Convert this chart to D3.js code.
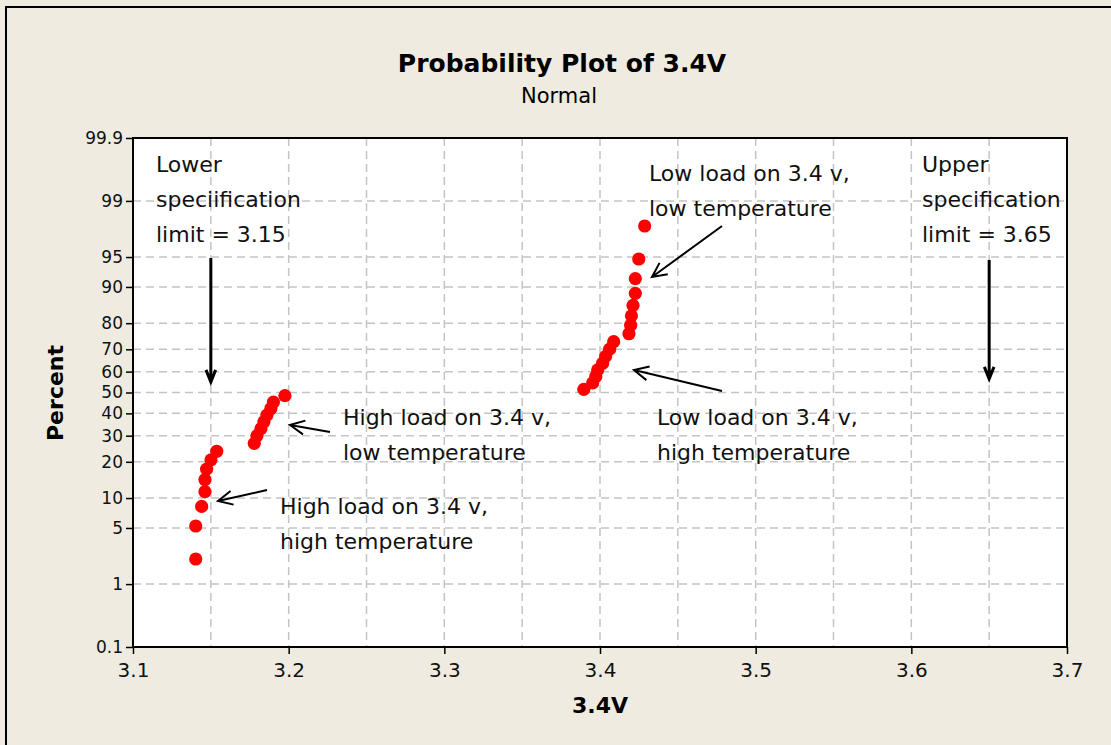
<!DOCTYPE html>
<html>
<head>
<meta charset="utf-8">
<script src="https://cdn.jsdelivr.net/npm/d3@7.9.0/dist/d3.min.js"></script>
<style>
  html, body { margin: 0; padding: 0; background: #efebe0; }
  svg { display: block; font-family: "DejaVu Sans", Verdana, sans-serif; }
</style>
</head>
<body>
<svg id="chart" width="1111" height="745"></svg>
<script>
// measured voltages, sorted (32 units)
const voltages = [
  3.1403, 3.1403, 3.1441, 3.1462, 3.1462, 3.1473, 3.1501, 3.1538,
  3.1779, 3.1796, 3.1822, 3.1841, 3.1860, 3.1886, 3.1902, 3.1976,
  3.3896, 3.3953, 3.3973, 3.3985, 3.4017, 3.4036, 3.4062, 3.4088,
  3.4186, 3.4197, 3.4202, 3.4212, 3.4227, 3.4227, 3.4249, 3.4287
];
// plotted percent for each point
const percents = [
  2.16, 5.25, 8.33, 11.42, 14.51, 17.59, 20.68, 23.77,
  26.85, 29.94, 33.02, 36.11, 39.20, 42.28, 45.37, 48.46,
  51.54, 54.63, 57.72, 60.80, 63.89, 66.98, 70.06, 73.15,
  76.23, 79.32, 82.41, 85.49, 88.58, 91.67, 94.75, 97.84
];

const xTicks = [3.1, 3.2, 3.3, 3.4, 3.5, 3.6, 3.7];
const xGrid = [3.15, 3.2, 3.25, 3.3, 3.35, 3.4, 3.45, 3.5, 3.55, 3.6, 3.65];
const yTicks = [0.1, 1, 5, 10, 20, 30, 40, 50, 60, 70, 80, 90, 95, 99, 99.9];
const yTickLabels = ['0.1', '1', '5', '10', '20', '30', '40', '50', '60', '70', '80', '90', '95', '99', '99.9'];
const yGrid = [1, 5, 10, 20, 30, 40, 50, 60, 70, 80, 90, 95, 99];

// inverse normal cdf (Acklam)
function qnorm(p) {
  const a = [-3.969683028665376e+01, 2.209460984245205e+02, -2.759285104469687e+02, 1.383577518672690e+02, -3.066479806614716e+01, 2.506628277459239e+00];
  const b = [-5.447609879822406e+01, 1.615858368580409e+02, -1.556989798598866e+02, 6.680131188771972e+01, -1.328068155288572e+01];
  const c = [-7.784894002430293e-03, -3.223964580411365e-01, -2.400758277161838e+00, -2.549671324285069e+00, 4.374664141464968e+00, 2.938163982698783e+00];
  const d = [7.784695709041462e-03, 3.224671290700398e-01, 2.445134137142996e+00, 3.754408661907416e+00];
  const pl = 0.02425, ph = 1 - pl;
  let q, r;
  if (p < pl) {
    q = Math.sqrt(-2 * Math.log(p));
    return (((((c[0]*q+c[1])*q+c[2])*q+c[3])*q+c[4])*q+c[5]) / ((((d[0]*q+d[1])*q+d[2])*q+d[3])*q+1);
  }
  if (p <= ph) {
    q = p - 0.5; r = q * q;
    return (((((a[0]*r+a[1])*r+a[2])*r+a[3])*r+a[4])*r+a[5])*q / (((((b[0]*r+b[1])*r+b[2])*r+b[3])*r+b[4])*r+1);
  }
  q = Math.sqrt(-2 * Math.log(1 - p));
  return -(((((c[0]*q+c[1])*q+c[2])*q+c[3])*q+c[4])*q+c[5]) / ((((d[0]*q+d[1])*q+d[2])*q+d[3])*q+1);
}

const svg = d3.select('#chart');
const W = 1111, H = 745;
const margin = { top: 138, right: 44, bottom: 98, left: 133 };
const innerW = W - margin.left - margin.right;
const innerH = H - margin.top - margin.bottom;

// outer frame
svg.append('rect')
  .attr('x', 6).attr('y', 7)
  .attr('width', W + 10).attr('height', H + 10)
  .attr('fill', '#efebe0')
  .attr('stroke', '#000').attr('stroke-width', 2);

const g = svg.append('g').attr('transform', `translate(${margin.left},${margin.top})`);

const x = d3.scaleLinear().domain([3.1, 3.7]).range([0, innerW]);
const z = d3.scaleLinear().domain([qnorm(0.001), qnorm(0.999)]).range([innerH, 0]);
const y = p => z(qnorm(p / 100));

g.append('rect')
  .attr('width', innerW).attr('height', innerH)
  .attr('fill', '#fff');

// gridlines
g.append('g').selectAll('line.gx')
  .data(xGrid).join('line')
  .attr('x1', d => x(d)).attr('x2', d => x(d))
  .attr('y1', 0).attr('y2', innerH)
  .attr('stroke', '#c4c4c4').attr('stroke-width', 1.5)
  .attr('stroke-dasharray', '8,5');

g.append('g').selectAll('line.gy')
  .data(yGrid).join('line')
  .attr('x1', 0).attr('x2', innerW)
  .attr('y1', d => y(d)).attr('y2', d => y(d))
  .attr('stroke', '#c4c4c4').attr('stroke-width', 1.5)
  .attr('stroke-dasharray', '8,5');

// axes
const xAxis = g.append('g')
  .attr('transform', `translate(0,${innerH})`)
  .call(d3.axisBottom(x).tickValues(xTicks).tickFormat(d3.format('.1f')).tickSize(7).tickSizeOuter(0));

const yAxis = g.append('g')
  .call(d3.axisLeft(z)
    .tickValues(yTicks.map(p => qnorm(p / 100)))
    .tickFormat((d, i) => yTickLabels[i])
    .tickSize(7).tickSizeOuter(0));

[xAxis, yAxis].forEach(a => {
  a.selectAll('.domain').remove();
  a.selectAll('.tick line').attr('stroke', '#000').attr('stroke-width', 1.5);
  a.selectAll('text').attr('fill', '#111')
    .style('font-family', '"DejaVu Sans", Verdana, sans-serif');
});
xAxis.selectAll('text').style('font-size', '20px').attr('dy', '1.05em').attr('y', 9);
yAxis.selectAll('text').style('font-size', '17px').attr('x', -10);

// plot frame
g.append('rect')
  .attr('width', innerW).attr('height', innerH)
  .attr('fill', 'none').attr('stroke', '#000').attr('stroke-width', 2);

// points
g.selectAll('circle.pt')
  .data(voltages.map((v, i) => ({ v, p: percents[i] })))
  .join('circle')
  .attr('class', 'pt')
  .attr('cx', d => x(d.v))
  .attr('cy', d => y(d.p))
  .attr('r', 6.6)
  .attr('fill', '#ff0000');

// titles
svg.append('text')
  .attr('x', 562).attr('y', 72)
  .attr('text-anchor', 'middle')
  .style('font-size', '25px').style('font-weight', 'bold')
  .text('Probability Plot of 3.4V');
svg.append('text')
  .attr('x', 559).attr('y', 103)
  .attr('text-anchor', 'middle')
  .style('font-size', '21px')
  .text('Normal');

svg.append('text')
  .attr('x', 600).attr('y', 713)
  .attr('text-anchor', 'middle')
  .style('font-size', '22px').style('font-weight', 'bold')
  .text('3.4V');
svg.append('text')
  .attr('transform', 'translate(63,393) rotate(-90)')
  .attr('text-anchor', 'middle')
  .style('font-size', '22px').style('font-weight', 'bold')
  .text('Percent');

// annotations
function label(lines, px, py) {
  const t = svg.append('text').style('font-size', '22px').attr('fill', '#111');
  lines.forEach((s, i) => {
    t.append('tspan').attr('x', px).attr('y', py + i * 35).text(s);
  });
}
label(['Lower', 'speciification', 'limit = 3.15'], 156, 172);
label(['Upper', 'specification', 'limit = 3.65'], 922, 172);
label(['Low load on 3.4 v,', 'low temperature'], 649, 181);
label(['High load on 3.4 v,', 'low temperature'], 343, 425);
label(['Low load on 3.4 v,', 'high temperature'], 657, 425);
label(['High load on 3.4 v,', 'high temperature'], 280, 514);

function arrow(x1, y1, x2, y2, w, len, ang) {
  const a = Math.atan2(y2 - y1, x2 - x1);
  const path = d3.path();
  path.moveTo(x1, y1); path.lineTo(x2, y2);
  path.moveTo(x2 - len * Math.cos(a - ang), y2 - len * Math.sin(a - ang));
  path.lineTo(x2, y2);
  path.lineTo(x2 - len * Math.cos(a + ang), y2 - len * Math.sin(a + ang));
  svg.append('path').attr('d', path.toString())
    .attr('fill', 'none').attr('stroke', '#000')
    .attr('stroke-width', w).attr('stroke-linejoin', 'miter');
}
arrow(margin.left + x(3.15), 258, margin.left + x(3.15), 382, 3, 13, 0.38);
arrow(margin.left + x(3.65), 260, margin.left + x(3.65), 379, 3, 13, 0.38);
arrow(722, 226, 652, 277, 2, 16, 0.45);
arrow(722, 391, 634, 370, 2, 16, 0.45);
arrow(330, 432, 290, 425, 2, 16, 0.45);
arrow(267, 490, 218, 501, 2, 16, 0.45);
</script>
</body>
</html>
